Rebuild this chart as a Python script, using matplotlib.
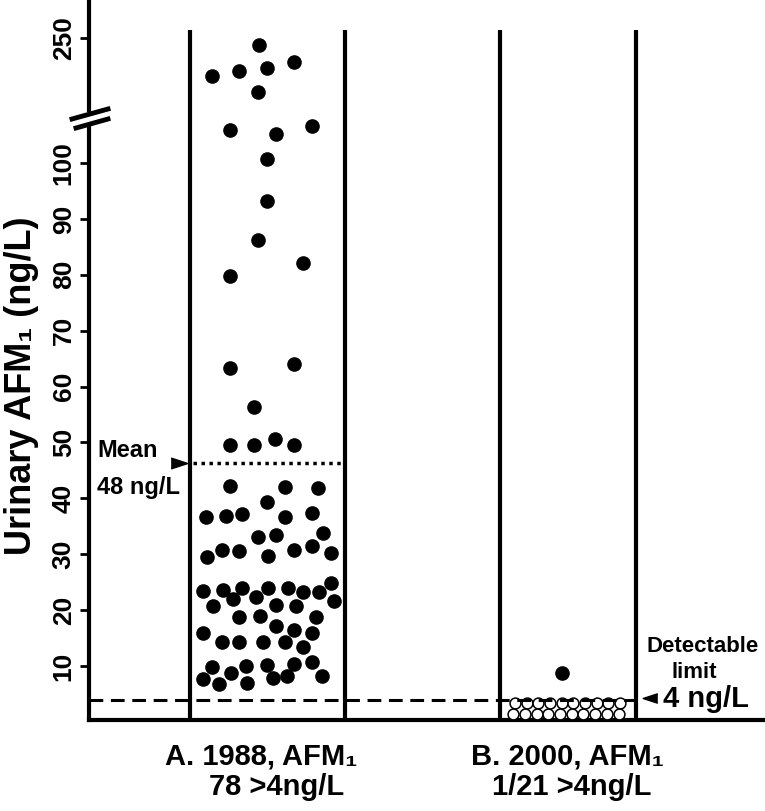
import matplotlib.pyplot as plt
import numpy as np

plt.rcParams['font.family'] = ['Liberation Sans', 'DejaVu Sans']
plt.rcParams['font.weight'] = 'bold'

# 1988 samples (x = jitter position in group A, y = urinary AFM1, ng/L)
a_x = [0.972, 0.815, 0.905, 0.998, 1.088, 0.968,
       0.875, 1.028, 1.148, 0.998, 0.998,
       0.968, 1.118, 0.875, 0.875, 1.088, 0.955,
       0.875, 0.955, 1.025, 1.088,
       0.875, 1.058, 1.168, 0.998,
       0.795, 0.862, 0.915, 1.058, 1.148,
       0.968, 1.028, 1.185,
       0.799, 0.849, 0.905, 1.002, 1.088, 1.148, 1.211,
       0.785, 0.852, 0.915, 1.002, 1.068, 1.118, 1.171, 1.211,
       0.819, 0.885, 0.962, 1.028, 1.095, 1.221,
       0.905, 0.975, 1.028, 1.088, 1.161,
       0.785, 0.849, 0.905, 0.985, 1.058, 1.118, 1.148,
       0.815, 0.879, 0.928, 0.998, 1.088, 1.148,
       0.785, 0.839, 0.932, 1.018, 1.065, 1.181]
a_y = [248.7, 243.2, 244.1, 244.6, 245.7, 240.3,
       105.9, 105.2, 106.6, 100.7, 93.2,
       86.2, 82.1, 79.8, 63.3, 64.0, 56.3,
       49.5, 49.5, 50.6, 49.5,
       42.2, 42.0, 41.8, 39.3,
       36.7, 36.8, 37.2, 36.7, 37.4,
       33.1, 33.4, 33.8,
       29.5, 30.8, 30.6, 29.7, 30.8, 31.5, 30.2,
       23.4, 23.6, 24.0, 24.0, 24.0, 23.3, 23.3, 24.9,
       20.7, 22.0, 22.4, 20.9, 20.7, 21.6,
       18.8, 18.9, 17.2, 16.4, 18.8,
       15.9, 14.3, 14.3, 14.3, 14.3, 13.4, 15.9,
       9.8, 8.8, 10.0, 10.2, 10.4, 10.7,
       7.7, 6.8, 7.0, 7.9, 8.2, 8.2]

# 2000 samples: one above the limit, twenty below it
b_pos_x = [1.979]
b_pos_y = [8.7]
b_neg_x = [1.824, 1.864, 1.900, 1.940, 1.980, 2.017, 2.057, 2.097, 2.133, 2.173,
           1.817, 1.857, 1.897, 1.933, 1.973, 2.013, 2.050, 2.090, 2.130, 2.170]
b_neg_y = [3.4] * 10 + [1.4] * 10

mean_a = 46.3
detect_limit = 4
group_edges = [0.742, 1.258, 1.774, 2.227]
lower_ticks = [10, 20, 30, 40, 50, 60, 70, 80, 90, 100]
upper_ticks = [250]

W, H = 765, 811
fig = plt.figure(figsize=(W / 100, H / 100), dpi=100)
ax = fig.add_axes([89 / W, 1 - 720 / H, 676 / W, 592 / H])
ax_hi = fig.add_axes([89 / W, 1 - 110 / H, 676 / W, 110 / H])

xlim = (0.406, 2.656)
ax.set_xlim(xlim)
ax_hi.set_xlim(xlim)
ax.set_ylim(0.34, 106.26)
ax_hi.set_ylim(237.12, 256.8)

for a in (ax, ax_hi):
    for s in ('top', 'right', 'bottom'):
        a.spines[s].set_visible(False)
    a.spines['left'].set_linewidth(3)
    a.set_xticks([])
    a.tick_params(axis='y', length=6.5, width=2, labelsize=19, pad=3,
                  labelrotation=90)
ax.spines['bottom'].set_visible(True)
ax.spines['bottom'].set_linewidth(3)
ax.set_yticks(lower_ticks)
ax_hi.set_yticks(upper_ticks)
for a in (ax, ax_hi):
    for lab in a.get_yticklabels():
        lab.set_va('center')

# group columns
ax.vlines(group_edges, 0.34, 109.5, color='k', lw=3, clip_on=False)
ax_hi.vlines(group_edges, 237.12, 251.4, color='k', lw=3)

# points
lo = np.array(a_y) < 200
ax.plot(np.array(a_x)[lo], np.array(a_y)[lo], 'o', ms=9.5, color='k', clip_on=False)
ax_hi.plot(np.array(a_x)[~lo], np.array(a_y)[~lo], 'o', ms=9.5, color='k')
ax.plot(b_pos_x, b_pos_y, 'o', ms=9.5, color='k')
ax.plot(b_neg_x, b_neg_y, 'o', ms=7.8, mfc='white', mec='k', mew=1.1,
        clip_on=False, zorder=3)

# mean and detectable limit
ax.hlines(mean_a, 0.752, 1.248, color='k', lw=2.5, linestyles=(0, (1, 1.3)))
ax.hlines(detect_limit, xlim[0], group_edges[3], color='k', lw=2.2,
          linestyles=(0, (4.5, 2.5)), zorder=4)

ax.plot(0.704, mean_a, marker=[(-1, -0.65), (1, 0), (-1, 0.65)], ms=12,
        color='k', clip_on=False)
ax.text(0.4326, 47.4, 'Mean', fontsize=17, ha='left', va='baseline')
ax.text(0.4326, 40.8, '48 ng/L', fontsize=17, ha='left', va='baseline')

ax.plot(2.2745, 4.2, marker=[(1, -0.65), (-1, 0), (1, 0.65)], ms=10.5,
        color='k', clip_on=False)
ax.text(2.3161, 2.67, '4 ng/L', fontsize=21, ha='left', va='baseline')
ax.text(2.447, 12.5, 'Detectable', fontsize=16, ha='center', va='baseline')
ax.text(2.421, 7.8, 'limit', fontsize=16, ha='center', va='baseline')

# group labels
tr = ax.get_xaxis_transform()
ax.text(0.978, -0.076, 'A. 1988, AFM₁', transform=tr, fontsize=21, ha='center', va='baseline')
ax.text(1.032, -0.127, '78 >4ng/L', transform=tr, fontsize=21, ha='center', va='baseline')
ax.text(1.997, -0.076, 'B. 2000, AFM₁', transform=tr, fontsize=21, ha='center', va='baseline')
ax.text(2.013, -0.127, '1/21 >4ng/L', transform=tr, fontsize=21, ha='center', va='baseline')

fig.text(22 / W, 1 - 386 / H, 'Urinary AFM₁ (ng/L)', rotation=90, fontsize=26,
         ha='center', va='center')

# axis break marks
for (x0, y0, x1, y1) in [(72, 119, 108, 109), (76, 128, 108, 119)]:
    fig.add_artist(plt.Line2D([x0 / W, x1 / W], [1 - y0 / H, 1 - y1 / H],
                              color='k', lw=3.5, transform=fig.transFigure))

fig.savefig('out.png', dpi=100)
